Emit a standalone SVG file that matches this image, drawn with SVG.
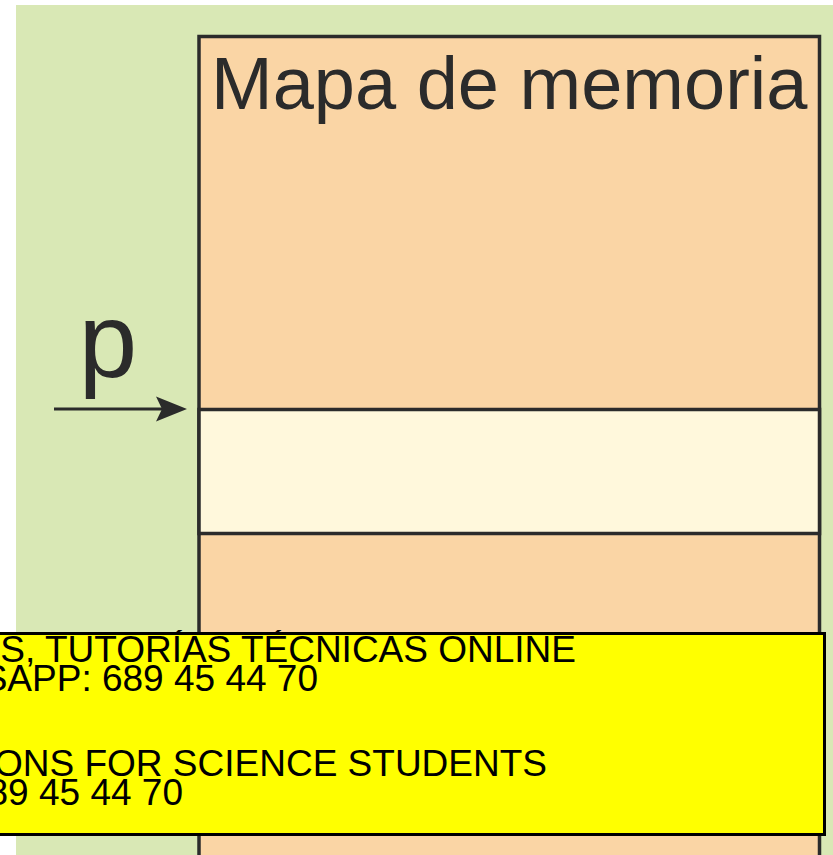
<svg xmlns="http://www.w3.org/2000/svg" width="833" height="855" viewBox="0 0 833 855">
<style>
.box{stroke:#2b2b2b;stroke-width:3.5}
.lbl{font-family:"Liberation Sans",Arial,sans-serif;fill:#2b2b2b}
.wm{font-family:"Liberation Sans",Arial,sans-serif;font-size:37px;fill:#000;text-anchor:end}
</style>
<rect x="16" y="5" width="830" height="860" fill="#d9e8b5"/>
<g id="memoria">
<rect class="box" x="199" y="36.5" width="620.5" height="880" fill="#fad5a5"/>
<text class="lbl" x="211" y="109" font-size="74">Mapa de memoria</text>
</g>
<g id="celda">
<rect class="box" x="199" y="409.5" width="620.5" height="124" fill="#fff8dc"/>
</g>
<g id="p">
<text class="lbl" x="108" y="377" font-size="105" text-anchor="middle">p</text>
</g>
<g id="connectors">
<line x1="54" y1="409" x2="162" y2="409" stroke="#2b2b2b" stroke-width="3"/>
<polygon points="187,409 156,396.5 162,409 156,421.5" fill="#2b2b2b"/>
</g>
<g id="aviso">
<rect x="-10" y="633.5" width="834.5" height="201" fill="#ffff00" stroke="#000" stroke-width="3"/>
<text class="wm" x="576" y="662">S, TUTORÍAS TÉCNICAS ONLINE</text>
<text class="wm" x="318" y="691">SAPP: 689 45 44 70</text>
<text class="wm" x="547" y="776">ONS FOR SCIENCE STUDENTS</text>
<text class="wm" x="183" y="805">89 45 44 70</text>
</g>
</svg>
